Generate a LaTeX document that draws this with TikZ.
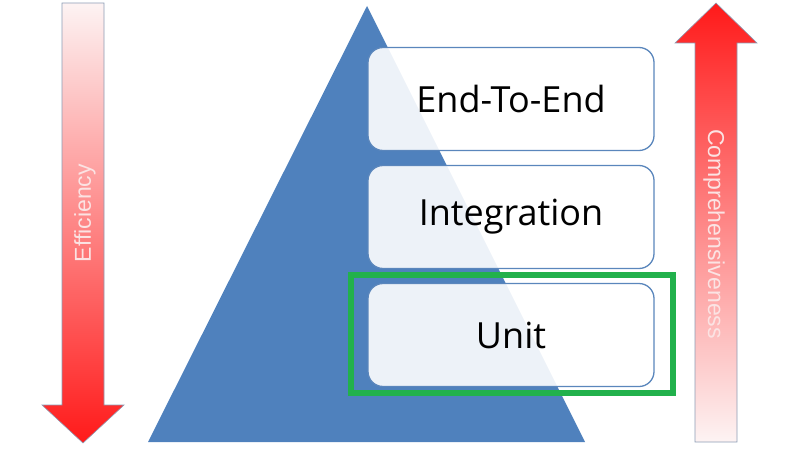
\documentclass[tikz,border=0pt]{standalone}
\usepackage{fontspec}
\setmainfont{Open Sans}
\newfontfamily\arrowfont{Liberation Sans}
\definecolor{triblue}{HTML}{4F81BD}
\definecolor{boxline}{HTML}{5A86BC}
\definecolor{arrowred}{HTML}{FF1A1A}
\definecolor{arrowpale}{HTML}{FDF3F3}
\definecolor{arrowline}{HTML}{8C9DB5}
\definecolor{markgreen}{HTML}{22B14C}
\definecolor{labelpink}{HTML}{FBE3E3}
\tikzset{
  levelbox/.style={draw=boxline, line width=1.3pt, fill=white, fill opacity=0.9, text opacity=1,
    rounded corners=15pt, minimum width=286pt, minimum height=103pt, inner sep=0pt,
    font=\fontsize{36}{40}\selectfont},
  arrowlabel/.style={text=labelpink, font=\arrowfont\fontsize{23}{26}\selectfont, inner sep=0pt},
  highlight/.style={draw=markgreen, line width=6pt, minimum width=322pt, minimum height=118pt, inner sep=0pt}
}
\begin{document}
\begin{tikzpicture}[x=1pt,y=1pt]
\useasboundingbox (0,0) rectangle (800,-452);
% left arrow
\shade[top color=arrowpale, bottom color=arrowred, draw=arrowline, line width=0.6pt]
  (62,-3) -- (104,-3) -- (104,-405) -- (124,-405) -- (83,-443) -- (42,-405) -- (62,-405) -- cycle;
\node[arrowlabel, rotate=90] (eff) at (85,-213) {Efficiency};
% right arrow
\shade[top color=arrowred, bottom color=arrowpale, draw=arrowline, line width=0.6pt]
  (716,-3) -- (757,-43) -- (737,-43) -- (737,-442) -- (695,-442) -- (695,-43) -- (675,-43) -- cycle;
\node[arrowlabel, rotate=-90] (comp) at (714,-234) {Comprehensiveness};
% pyramid
\fill[triblue] (367,-6) -- (585,-442) -- (148,-442) -- cycle;
% levels
\node[levelbox] (e2e) at (511,-99) {End-To-End};
\node[levelbox] (integ) at (511,-217) {Integration};
\node[levelbox] (unit) at (511,-335) {Unit};
% highlight
\node[highlight] (mark) at (512,-334) {};
\end{tikzpicture}
\end{document}
